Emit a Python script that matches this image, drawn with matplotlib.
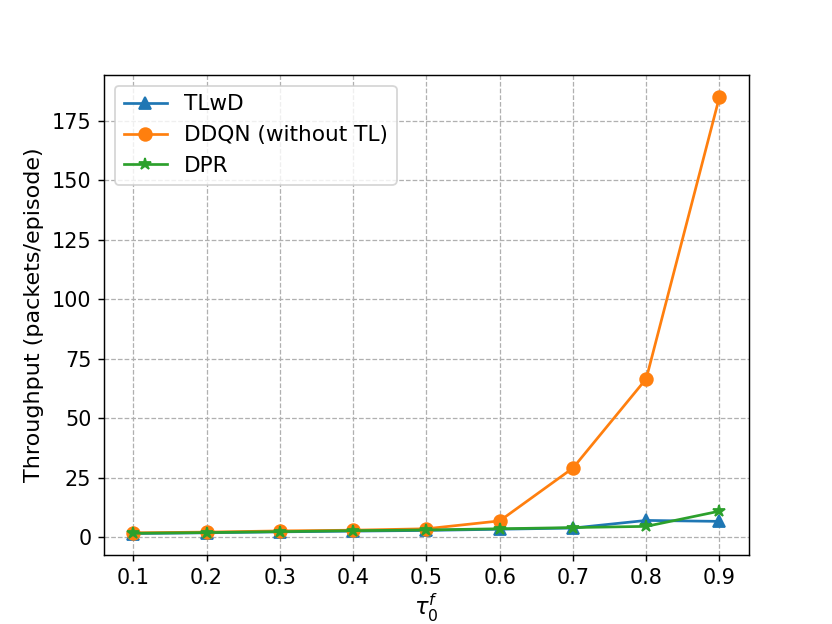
import matplotlib
matplotlib.use("Agg")
import matplotlib.pyplot as plt

x = [0.1, 0.2, 0.3, 0.4, 0.5, 0.6, 0.7, 0.8, 0.9]
tlwd = [1.5, 1.8, 2.2, 2.5, 2.8, 3.3, 3.8, 7.0, 6.6]
ddqn = [1.8, 2.1, 2.6, 2.9, 3.5, 6.8, 29.0, 66.5, 185.0]
dpr = [1.6, 1.9, 2.3, 2.7, 3.0, 3.5, 4.0, 4.5, 10.9]
labels = ["TLwD", "DDQN (without TL)", "DPR"]

fig, ax = plt.subplots(figsize=(6.4, 4.8), dpi=130)
ax.plot(x, tlwd, marker="^", markersize=7, label=labels[0])
ax.plot(x, ddqn, marker="o", markersize=7, label=labels[1])
ax.plot(x, dpr, marker="*", markersize=7, label=labels[2])
ax.grid(True, linestyle="--", color="#b0b0b0", linewidth=0.7)
ax.set_xticks(x)
ax.tick_params(labelsize=11.5)
ax.set_xlabel(r"$\tau_0^f$", fontsize=12.5, labelpad=2)
ax.set_ylabel("Throughput (packets/episode)", fontsize=12.3)
ax.legend(loc="upper left", fontsize=12)
fig.savefig("out.png")
